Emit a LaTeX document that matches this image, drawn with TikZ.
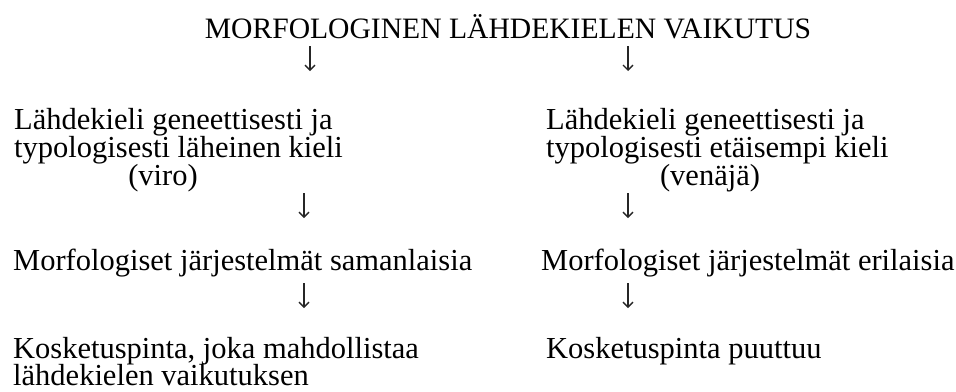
\documentclass[tikz,border=0pt]{standalone}
\usepackage{fontspec}
\setmainfont{Liberation Serif}
\usetikzlibrary{arrows.meta}
\begin{document}
\begin{tikzpicture}[x=1bp,y=-1bp,
  txt/.style={inner sep=0pt,anchor=base west,font=\fontsize{30.5bp}{27bp}\selectfont},
  ctxt/.style={inner sep=0pt,anchor=base,font=\fontsize{30.5bp}{27bp}\selectfont},
  ttl/.style={inner sep=0pt,anchor=base,font=\fontsize{29.6bp}{30bp}\selectfont},
  darr/.style={draw=black!85,line width=1.3bp,-{Straight Barb[length=5bp,width=10bp,line width=1.3bp]}}]
\useasboundingbox[fill=white] (0,0) rectangle (956,391);
\node[ttl] (title) at (508,38) {MORFOLOGINEN LÄHDEKIELEN VAIKUTUS};
\node[txt] (l1) at (14,129) {Lähdekieli geneettisesti ja};
\node[txt] (l2) at (14,157) {typologisesti läheinen kieli};
\node[ctxt] (l3) at (163,185) {(viro)};
\node[txt] (r1) at (546,129) {Lähdekieli geneettisesti ja};
\node[txt] (r2) at (546,157) {typologisesti etäisempi kieli};
\node[ctxt] (r3) at (710,185) {(venäjä)};
\node[txt] (m1) at (13,270) {Morfologiset järjestelmät samanlaisia};
\node[txt] (m2) at (541,270) {Morfologiset järjestelmät erilaisia};
\node[txt] (k1) at (13,358) {Kosketuspinta, joka mahdollistaa};
\node[txt] (k2) at (13,385) {lähdekielen vaikutuksen};
\node[txt] (k3) at (546,358) {Kosketuspinta puuttuu};
% arrow end points
\coordinate (a1s) at (310,46); \coordinate (a1e) at (310,71);
\coordinate (a2s) at (628,46); \coordinate (a2e) at (628,71);
\coordinate (a3s) at (304,193); \coordinate (a3e) at (304,218);
\coordinate (a4s) at (628,193); \coordinate (a4e) at (628,218);
\coordinate (a5s) at (304,283); \coordinate (a5e) at (304,308);
\coordinate (a6s) at (628,283); \coordinate (a6e) at (628,308);
\draw[darr] (a1s) -- (a1e);
\draw[darr] (a2s) -- (a2e);
\draw[darr] (a3s) -- (a3e);
\draw[darr] (a4s) -- (a4e);
\draw[darr] (a5s) -- (a5e);
\draw[darr] (a6s) -- (a6e);
\end{tikzpicture}
\end{document}
